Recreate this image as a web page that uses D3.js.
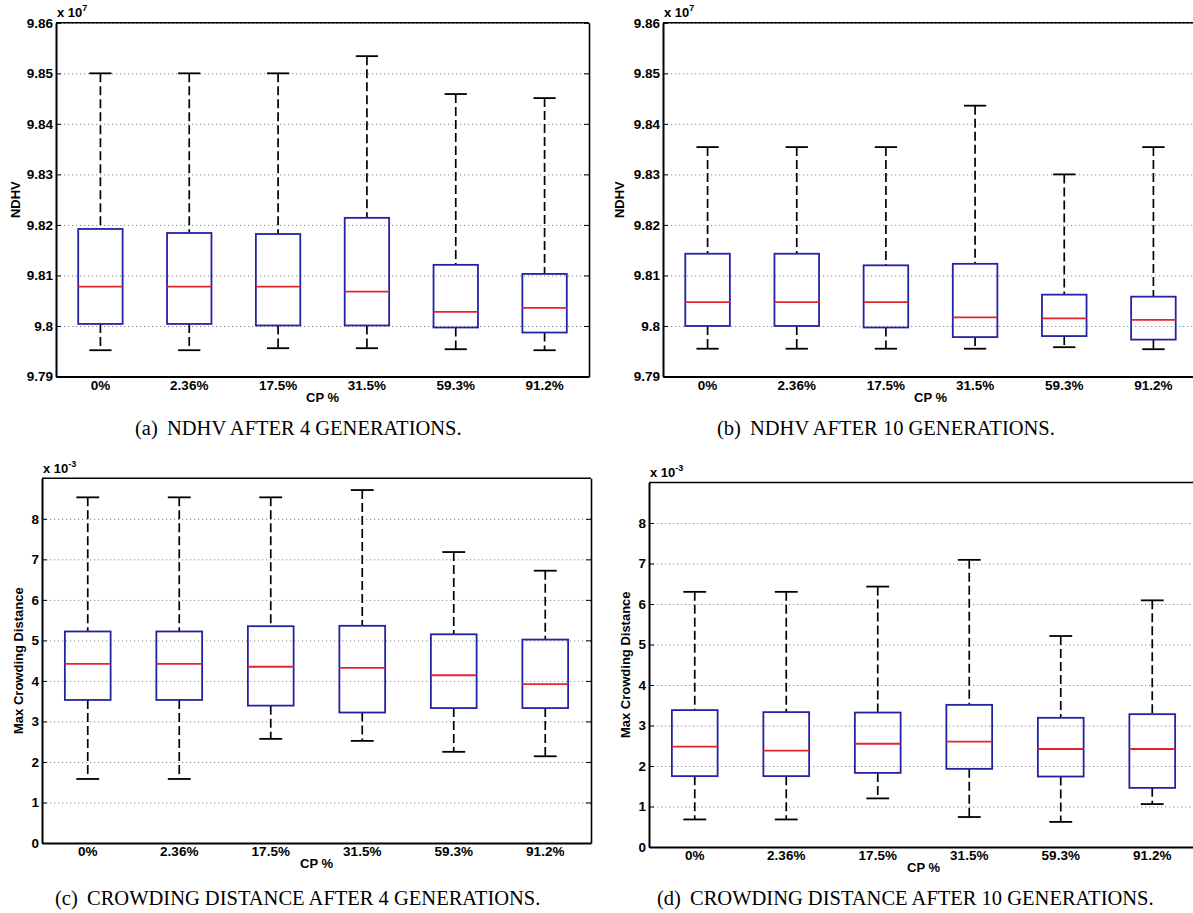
<!DOCTYPE html>
<html>
<head>
<meta charset="utf-8">
<script src="https://cdn.jsdelivr.net/npm/d3@7"></script>
<style>
  body { margin: 0; background: #fff; }
  svg { display: block; }
  .tick text { font-family: "Liberation Sans", Arial, sans-serif; font-weight: bold; font-size: 13.5px; fill: #000; }
</style>
</head>
<body>
<svg id="fig" width="1193" height="913"></svg>
<script>
// Compression-parameter levels on the x axis
const categories = ["0%", "2.36%", "17.5%", "31.5%", "59.3%", "91.2%"];

// NDHV after 4 generations (values in units of 1e7)
const ndhv4Upper  = [9.8500, 9.8500, 9.8500, 9.8534, 9.8459, 9.8451];
const ndhv4Q3     = [9.8192, 9.8184, 9.8182, 9.8214, 9.8121, 9.8103];
const ndhv4Median = [9.8078, 9.8078, 9.8078, 9.8068, 9.8028, 9.8036];
const ndhv4Q1     = [9.8004, 9.8004, 9.8001, 9.8001, 9.7997, 9.7987];
const ndhv4Lower  = [9.7952, 9.7952, 9.7956, 9.7956, 9.7954, 9.7952];

// NDHV after 10 generations (values in units of 1e7)
const ndhv10Upper  = [9.8354, 9.8354, 9.8354, 9.8436, 9.8300, 9.8354];
const ndhv10Q3     = [9.8143, 9.8143, 9.8120, 9.8123, 9.8062, 9.8058];
const ndhv10Median = [9.8047, 9.8047, 9.8047, 9.8017, 9.8015, 9.8012];
const ndhv10Q1     = [9.8000, 9.8000, 9.7997, 9.7978, 9.7980, 9.7973];
const ndhv10Lower  = [9.7955, 9.7955, 9.7955, 9.7955, 9.7958, 9.7954];

// Max crowding distance after 4 generations (values in units of 1e-3)
const cd4Upper  = [8.53, 8.53, 8.53, 8.71, 7.18, 6.72];
const cd4Q3     = [5.22, 5.22, 5.35, 5.36, 5.15, 5.02];
const cd4Median = [4.42, 4.42, 4.35, 4.32, 4.14, 3.92];
const cd4Q1     = [3.53, 3.53, 3.39, 3.22, 3.33, 3.33];
const cd4Lower  = [1.58, 1.58, 2.57, 2.52, 2.25, 2.14];

// Max crowding distance after 10 generations (values in units of 1e-3)
const cd10Upper  = [6.30, 6.30, 6.43, 7.09, 5.21, 6.09];
const cd10Q3     = [3.38, 3.33, 3.32, 3.51, 3.19, 3.28];
const cd10Median = [2.48, 2.38, 2.55, 2.60, 2.42, 2.42];
const cd10Q1     = [1.75, 1.75, 1.83, 1.93, 1.74, 1.46];
const cd10Lower  = [0.68, 0.68, 1.20, 0.74, 0.62, 1.06];

// Axis ticks and labels
const ndhvTicks = [9.79, 9.80, 9.81, 9.82, 9.83, 9.84, 9.85, 9.86];
const ndhvTickLabels = ["9.79", "9.8", "9.81", "9.82", "9.83", "9.84", "9.85", "9.86"];
const cdTicks = [0, 1, 2, 3, 4, 5, 6, 7, 8];
const cdTickLabels = ["0", "1", "2", "3", "4", "5", "6", "7", "8"];

const xLabel = "CP %";

function stats(upper, q3, med, q1, lower) {
  return categories.map((c, i) => ({ cat: c, upper: upper[i], q3: q3[i], med: med[i], q1: q1[i], lower: lower[i] }));
}

const panels = [
  { left: 56, width: 533, top: 22.8, bottom: 376.5, domain: [9.79, 9.86],
    ticks: ndhvTicks, labels: ndhvTickLabels, ylabel: "NDHV", ylabelX: 17, exp: "7",
    data: stats(ndhv4Upper, ndhv4Q3, ndhv4Median, ndhv4Q1, ndhv4Lower),
    tag: "(a)", tagX: 135, caption: "NDHV AFTER 4 GENERATIONS.", capX: 167, capY: 435 },
  { left: 663, width: 535, top: 22.8, bottom: 376.5, domain: [9.79, 9.86],
    ticks: ndhvTicks, labels: ndhvTickLabels, ylabel: "NDHV", ylabelX: 621, exp: "7",
    data: stats(ndhv10Upper, ndhv10Q3, ndhv10Median, ndhv10Q1, ndhv10Lower),
    tag: "(b)", tagX: 717, caption: "NDHV AFTER 10 GENERATIONS.", capX: 750, capY: 435 },
  { left: 42, width: 549, top: 478.3, bottom: 843, domain: [0, 9],
    ticks: cdTicks, labels: cdTickLabels, ylabel: "Max Crowding Distance", ylabelX: 20, exp: "-3",
    data: stats(cd4Upper, cd4Q3, cd4Median, cd4Q1, cd4Lower),
    tag: "(c)", tagX: 55, caption: "CROWDING DISTANCE AFTER 4 GENERATIONS.", capX: 87, capY: 905 },
  { left: 649, width: 549, top: 482.5, bottom: 847, domain: [0, 9],
    ticks: cdTicks, labels: cdTickLabels, ylabel: "Max Crowding Distance", ylabelX: 627, exp: "-3",
    data: stats(cd10Upper, cd10Q3, cd10Median, cd10Q1, cd10Lower),
    tag: "(d)", tagX: 657, caption: "CROWDING DISTANCE AFTER 10 GENERATIONS.", capX: 690, capY: 905 }
];

const svg = d3.select("#fig");
const sans = '"Liberation Sans", Arial, sans-serif';
const serif = '"Liberation Serif", "Times New Roman", serif';
const boxBlue = "#2323a8";
const medRed = "#e0252b";

panels.forEach(p => {
  const right = p.left + p.width;
  const x = d3.scaleBand().domain(categories).range([p.left, right])
    .paddingInner(0.5).paddingOuter(0.25);
  const y = d3.scaleLinear().domain(p.domain).range([p.bottom, p.top]);
  const g = svg.append("g");

  // dotted horizontal grid
  const grid = g.append("g").attr("transform", `translate(${p.left},0)`)
    .call(d3.axisLeft(y).tickValues(p.ticks).tickSize(-p.width).tickFormat(""));
  grid.select(".domain").remove();
  grid.selectAll("line").attr("stroke", "#858585").attr("stroke-width", 1)
    .attr("stroke-dasharray", "1.2,2.8");

  // boxes
  const bw = x.bandwidth();
  const items = g.selectAll(".bx").data(p.data).join("g").attr("class", "bx");
  const cx = d => x(d.cat) + bw / 2;
  items.append("line").attr("x1", cx).attr("x2", cx)
    .attr("y1", d => y(d.upper)).attr("y2", d => y(d.q3))
    .attr("stroke", "#000").attr("stroke-width", 1.7).attr("stroke-dasharray", "9,4");
  items.append("line").attr("x1", cx).attr("x2", cx)
    .attr("y1", d => y(d.q1)).attr("y2", d => y(d.lower))
    .attr("stroke", "#000").attr("stroke-width", 1.7).attr("stroke-dasharray", "9,4");
  ["upper", "lower"].forEach(k => {
    items.append("line").attr("x1", d => cx(d) - bw / 4).attr("x2", d => cx(d) + bw / 4)
      .attr("y1", d => y(d[k])).attr("y2", d => y(d[k]))
      .attr("stroke", "#000").attr("stroke-width", 1.8);
  });
  items.append("rect").attr("x", d => x(d.cat)).attr("width", bw)
    .attr("y", d => y(d.q3)).attr("height", d => y(d.q1) - y(d.q3))
    .attr("fill", "none").attr("stroke", boxBlue).attr("stroke-width", 1.8);
  items.append("line").attr("x1", d => x(d.cat)).attr("x2", d => x(d.cat) + bw)
    .attr("y1", d => y(d.med)).attr("y2", d => y(d.med))
    .attr("stroke", medRed).attr("stroke-width", 1.8);

  // frame: top and right
  g.append("line").attr("x1", p.left).attr("x2", right).attr("y1", p.top).attr("y2", p.top)
    .attr("stroke", "#000").attr("stroke-width", 1.6);
  const rAx = g.append("g").attr("transform", `translate(${right},0)`)
    .call(d3.axisRight(y).tickValues(p.ticks).tickSizeInner(-5).tickSizeOuter(0).tickFormat(""));
  rAx.select(".domain").attr("stroke-width", 1.6);

  // left axis
  const lAx = g.append("g").attr("transform", `translate(${p.left},0)`)
    .call(d3.axisLeft(y).tickValues(p.ticks).tickSizeInner(-5).tickSizeOuter(0).tickPadding(3)
      .tickFormat((d, i) => p.labels[i]));
  lAx.select(".domain").attr("stroke-width", 2);

  // bottom axis
  const bAx = g.append("g").attr("transform", `translate(0,${p.bottom})`)
    .call(d3.axisBottom(x).tickSize(0).tickPadding(3.5));
  bAx.select(".domain").attr("stroke-width", 2);

  // exponent label
  const ex = g.append("text").attr("x", p.left + 1).attr("y", p.top - 5.5)
    .attr("font-family", sans).attr("font-weight", "bold").attr("font-size", 13);
  ex.append("tspan").text("x 10");
  ex.append("tspan").attr("dy", -6).attr("font-size", 9).text(p.exp);

  // axis titles
  g.append("text").attr("x", p.left + p.width / 2).attr("y", p.bottom + 25)
    .attr("text-anchor", "middle").attr("font-family", sans).attr("font-weight", "bold")
    .attr("font-size", 13).text(xLabel);
  g.append("text")
    .attr("transform", `translate(${p.ylabelX},${(p.top + p.bottom) / 2}) rotate(-90)`)
    .attr("text-anchor", "middle").attr("dominant-baseline", "middle")
    .attr("font-family", sans).attr("font-weight", "bold").attr("font-size", 13).text(p.ylabel);

  // sub-figure caption
  g.append("text").attr("x", p.tagX).attr("y", p.capY).attr("font-family", serif)
    .attr("font-size", 20.5).text(p.tag);
  g.append("text").attr("x", p.capX).attr("y", p.capY).attr("font-family", serif)
    .attr("font-size", 20.5).text(p.caption);
});
</script>
</body>
</html>
